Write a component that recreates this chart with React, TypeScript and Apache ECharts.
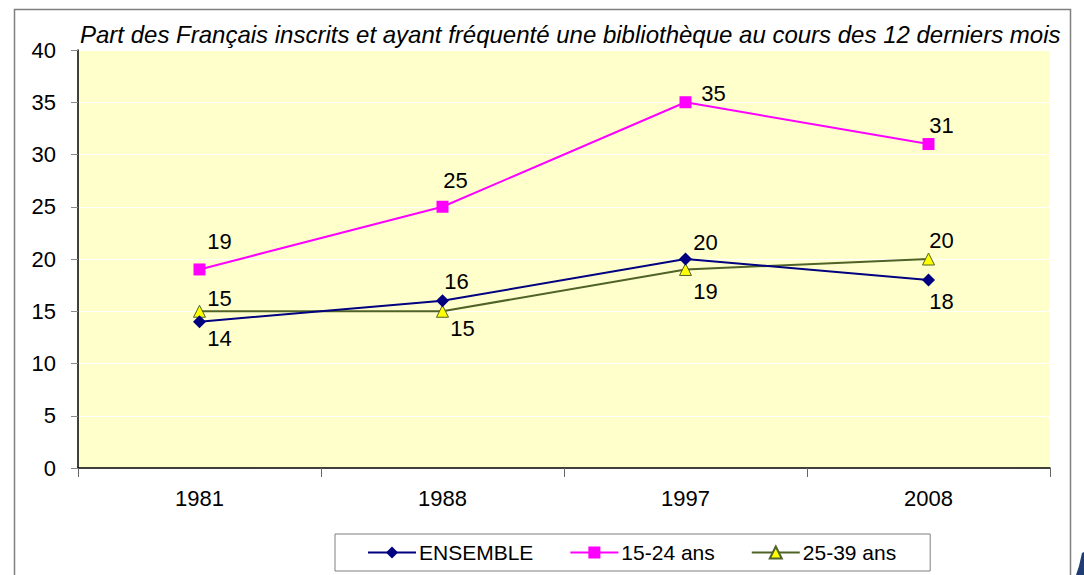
import React, { useEffect, useRef } from "react";
import * as echarts from "echarts";

const categories = ["1981", "1988", "1997", "2008"];
const ensemble = [14, 16, 20, 18];
const jeunes = [19, 25, 35, 31];
const adultes = [15, 15, 19, 20];
const seriesNames = ["ENSEMBLE", "15-24 ans", "25-39 ans"];
const titleText =
  "Part des Français inscrits et ayant fréquenté une bibliothèque au cours des 12 derniers mois";

const ensembleOffsets = [[20, 17], [14, -19], [20, -17], [13, 22]];
const jeunesOffsets = [[20, -28], [13, -26], [28, -9], [13, -19]];
const adultesOffsets = [[20, -13], [20, 17], [20, 22], [13, -19]];

const FONT = "'Liberation Sans', Arial, sans-serif";

function withLabels(values: number[], offsets: number[][]) {
  return values.map((v, i) => ({
    value: v,
    label: { offset: offsets[i] },
  }));
}

export default function App() {
  const ref = useRef<HTMLDivElement>(null);
  useEffect(() => {
    if (!ref.current) return;
    const chart = echarts.init(ref.current, undefined, { renderer: "svg" });
    const label = {
      show: true,
      position: "inside",
      color: "#000",
      fontSize: 22,
      fontFamily: FONT,
    };
    chart.setOption({
      animation: false,
      backgroundColor: "#fff",
      title: {
        text: titleText,
        left: 80,
        top: 22,
        padding: 0,
        textStyle: {
          fontStyle: "italic",
          fontWeight: "normal",
          fontSize: 24,
          fontFamily: FONT,
          color: "#000",
        },
      },
      graphic: [
        {
          type: "rect",
          shape: { x: 14.5, y: 9.5, width: 1056, height: 600 },
          style: { fill: "none", stroke: "#7f7f7f", lineWidth: 1.5 },
          z: -1,
        },
        {
          type: "polygon",
          shape: { points: [[1082, 553], [1084, 552], [1084, 575], [1076, 575], [1079, 566]] },
          style: { fill: "#1F3C73" },
        },
      ],
      legend: {
        left: 335,
        top: 534,
        orient: "horizontal",
        borderColor: "#7f7f7f",
        borderWidth: 1,
        padding: [8, 34, 8, 32],
        itemGap: 36,
        itemWidth: 48,
        itemHeight: 15,
        textStyle: { fontSize: 21, fontFamily: FONT, color: "#000", padding: [0, 0, 0, -2] },
        data: seriesNames,
      },
      grid: {
        left: 78,
        right: 34,
        top: 50,
        bottom: 107,
        show: true,
        backgroundColor: "#FFFFCC",
        borderWidth: 0,
      },
      xAxis: {
        type: "category",
        data: categories,
        boundaryGap: true,
        axisLine: { lineStyle: { color: "#000", width: 1.5 } },
        axisTick: { show: true, length: 9, interval: 0, lineStyle: { color: "#666" } },
        axisLabel: { fontSize: 22, fontFamily: FONT, color: "#000", margin: 19 },
      },
      yAxis: {
        type: "value",
        min: 0,
        max: 40,
        interval: 5,
        axisLine: { show: true, lineStyle: { color: "#000", width: 1.5 } },
        axisTick: { show: true, length: 7, lineStyle: { color: "#888" } },
        axisLabel: { fontSize: 22, fontFamily: FONT, color: "#000", margin: 22 },
        splitLine: { show: true, lineStyle: { color: "#ffffff", width: 1 } },
      },
      series: [
        {
          name: seriesNames[0],
          type: "line",
          data: withLabels(ensemble, ensembleOffsets),
          symbol: "diamond",
          symbolSize: 13,
          lineStyle: { color: "#000080", width: 2 },
          itemStyle: { color: "#000080" },
          label,
          z: 3,
        },
        {
          name: seriesNames[1],
          type: "line",
          data: withLabels(jeunes, jeunesOffsets),
          symbol: "rect",
          symbolSize: 12,
          lineStyle: { color: "#FF00FF", width: 2 },
          itemStyle: { color: "#FF00FF" },
          label,
          z: 3,
        },
        {
          name: seriesNames[2],
          type: "line",
          data: withLabels(adultes, adultesOffsets),
          symbol: "triangle",
          symbolSize: 12,
          lineStyle: { color: "#4F6228", width: 2 },
          itemStyle: { color: "#FFFF00", borderColor: "#4F6228", borderWidth: 1 },
          label,
          z: 2,
        },
      ],
    });
    return () => chart.dispose();
  }, []);
  return (
    <div
      ref={ref}
      style={{ position: "fixed", left: 0, top: 0, width: 1084, height: 575 }}
    />
  );
}
